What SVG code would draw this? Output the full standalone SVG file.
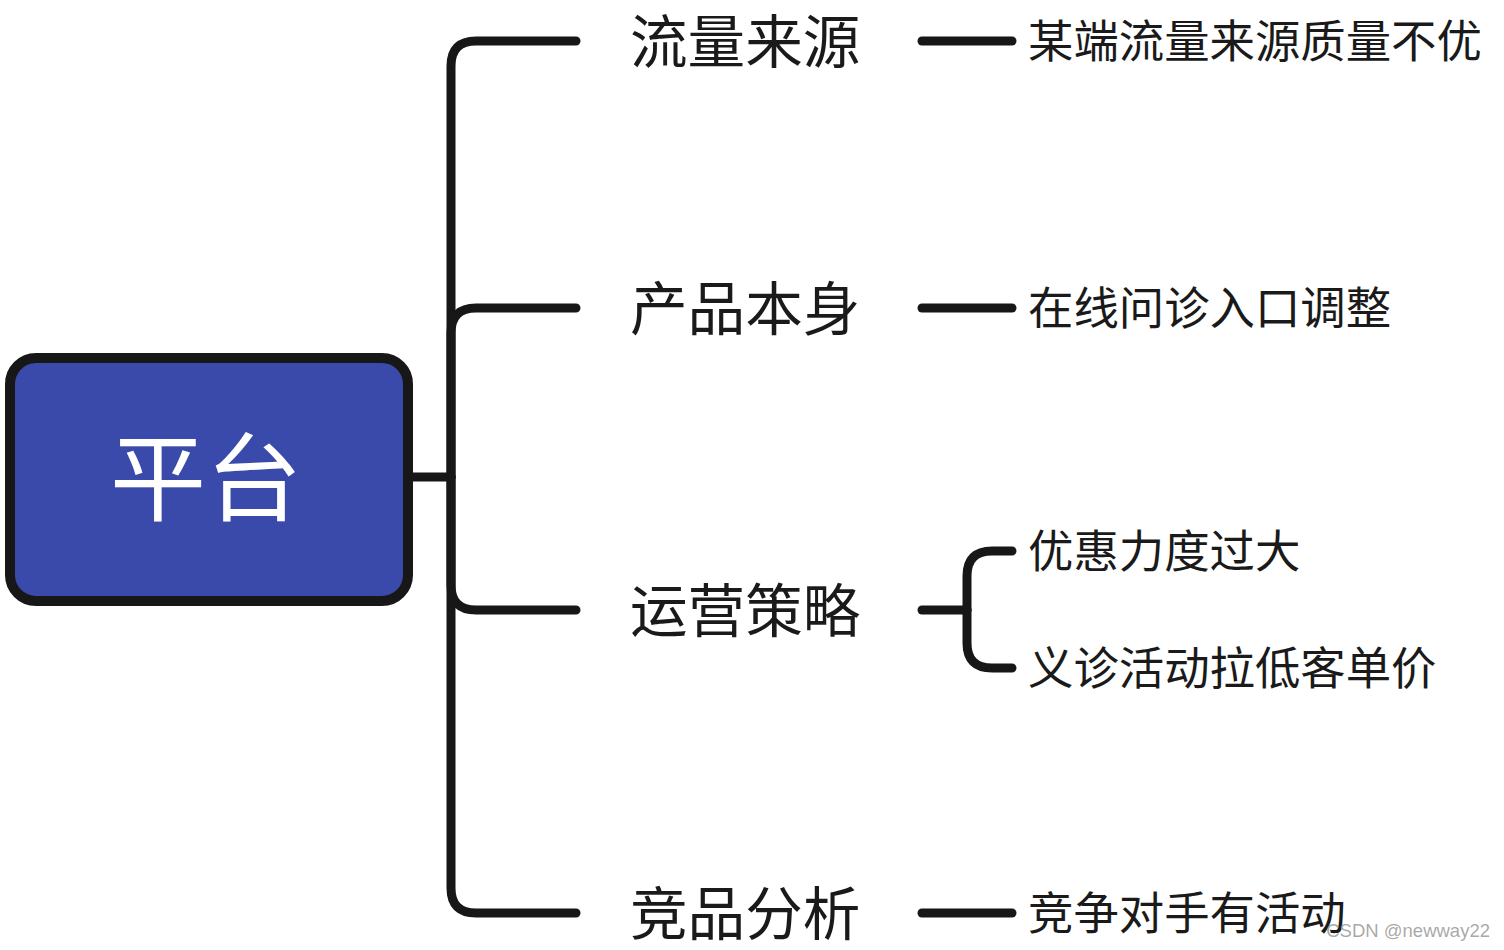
<svg xmlns="http://www.w3.org/2000/svg" width="1504" height="950" viewBox="0 0 1504 950">
<style>
.ln{fill:none;stroke:#171717;stroke-width:9;stroke-linecap:round;stroke-linejoin:round}
.t{font-family:"Noto Sans CJK SC","Noto Sans",sans-serif;fill:#1a1a1a;dominant-baseline:central}
.l1{font-size:57.6px}
.l2{font-size:45.4px}
</style>
<rect width="1504" height="950" fill="#ffffff"/>
<g id="connectors">
<path class="ln" d="M408 477 H451"/>
<path class="ln" d="M451 477 V66 Q451 41 476 41 H576"/>
<path class="ln" d="M451 477 V333 Q451 308 476 308 H576"/>
<path class="ln" d="M451 477 V585 Q451 610 476 610 H576"/>
<path class="ln" d="M451 477 V888 Q451 913 476 913 H576"/>
<path class="ln" d="M922 41 H1012"/>
<path class="ln" d="M922 308 H1012"/>
<path class="ln" d="M922 913 H1012"/>
<path class="ln" d="M922 610 H967"/>
<path class="ln" d="M967 610 V576 Q967 551 992 551 H1012"/>
<path class="ln" d="M967 610 V643 Q967 668 992 668 H1012"/>
</g>
<g id="root">
<rect x="10" y="358" width="398" height="243" rx="26" fill="#3a4aab" stroke="#171717" stroke-width="10"/>
<text x="206" y="471" text-anchor="middle" font-family="Noto Sans CJK SC,sans-serif" font-size="96" fill="#ffffff" dominant-baseline="central">平台</text>
</g>
<g id="n1"><text class="t l1" x="630" y="38">流量来源</text></g>
<g id="n2"><text class="t l1" x="630" y="305">产品本身</text></g>
<g id="n3"><text class="t l1" x="630" y="607">运营策略</text></g>
<g id="n4"><text class="t l1" x="630" y="910">竞品分析</text></g>
<g id="n1a"><text class="t l2" x="1028" y="38">某端流量来源质量不优</text></g>
<g id="n2a"><text class="t l2" x="1028" y="305">在线问诊入口调整</text></g>
<g id="n3a"><text class="t l2" x="1028" y="548">优惠力度过大</text></g>
<g id="n3b"><text class="t l2" x="1028" y="665">义诊活动拉低客单价</text></g>
<g id="n4a"><text class="t l2" x="1028" y="910">竞争对手有活动</text></g>
<text x="1490" y="937" text-anchor="end" font-family="Liberation Sans,Arial,sans-serif" font-size="18.5" fill="#999999" fill-opacity="0.85">CSDN @newway22</text>
</svg>
